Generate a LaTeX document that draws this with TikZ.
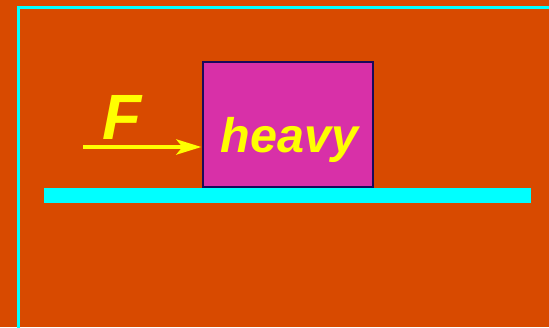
\documentclass[tikz,border=0pt]{standalone}
\usepackage{fontspec}
\setmainfont{Liberation Sans}
\usetikzlibrary{arrows.meta}
\definecolor{bgorange}{RGB}{216,74,0}
\definecolor{boxmag}{RGB}{216,48,168}
\definecolor{boxline}{RGB}{25,10,90}
\definecolor{cyanc}{RGB}{0,255,255}
\definecolor{yel}{RGB}{255,255,0}
\tikzset{
  blockbox/.style={draw=boxline, line width=2pt, fill=boxmag, minimum width=170pt, minimum height=125pt, inner sep=0pt, outer sep=0pt},
  bigtext/.style={text=yel, font=\bfseries\itshape, inner sep=0pt},
  forcearrow/.style={draw=yel, line width=4.5pt, -{Stealth[length=25pt, width=15pt, inset=6pt]}},
  framestyle/.style={draw=cyanc, line width=3pt}
}
\begin{document}
\begin{tikzpicture}[x=1pt, y=-1pt]
\useasboundingbox (0,0) rectangle (549,327);
\fill[bgorange] (0,0) rectangle (549,327);
% frame
\coordinate (ftl) at (18.5,7.5);
\coordinate (ftr) at (551,7.5);
\coordinate (fbl) at (18.5,330);
\draw[framestyle] (ftr) -- (ftl) -- (fbl);
% floor
\fill[cyanc] (44,188) rectangle (531,203);
% box
\node[blockbox] (box) at (287.5,124.5) {};
\node[bigtext, font=\fontsize{48.5}{48.5}\selectfont\bfseries\itshape, anchor=base west] (heavy) at (220.5,152.5) {heavy};
% force
\node[bigtext, font=\fontsize{64}{64}\selectfont\bfseries\itshape, anchor=base] (F) at (122.5,139) {F};
\coordinate (astart) at (83,147);
\draw[forcearrow] (astart) -- ([xshift=-1pt]astart -| box.west);
\end{tikzpicture}
\end{document}
